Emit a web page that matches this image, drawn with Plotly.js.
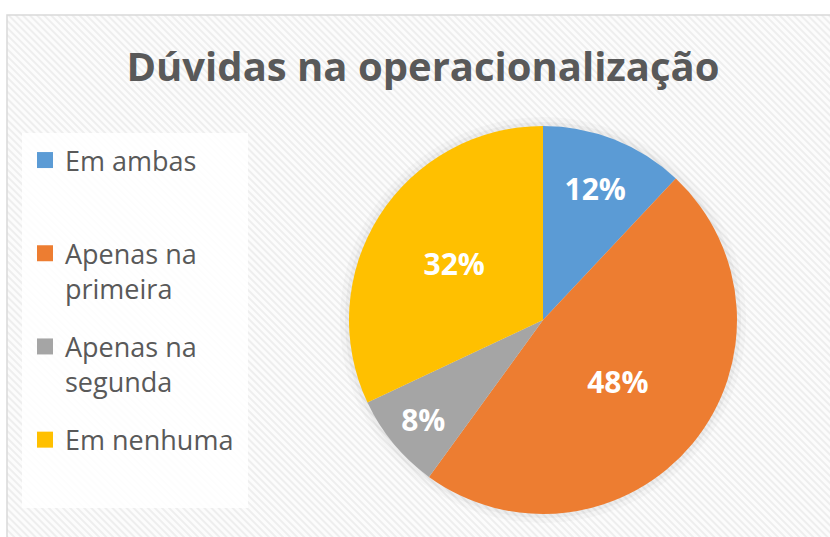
<!DOCTYPE html>
<html>
<head>
<meta charset="utf-8">
<script src="https://cdn.plot.ly/plotly-3.0.1.min.js"></script>
<style>html,body{margin:0;padding:0;background:#fff;}#chart{width:830px;height:537px;}</style>
</head>
<body>
<div id="chart"></div>
<script>
// ---- data ----
var categories = ['Em ambas', 'Apenas na primeira', 'Apenas na segunda', 'Em nenhuma'];
var percentages = [12, 48, 8, 32];
var sliceColors = ['#5B9BD5', '#ED7D31', '#A5A5A5', '#FFC000'];
var chartTitle = 'Dúvidas na operacionalização';

// legend display labels (wrapped like the original)
var wrapped = {
  'Em ambas': 'Em ambas<br>&nbsp;',
  'Apenas na primeira': 'Apenas na<br>primeira',
  'Apenas na segunda': 'Apenas na<br>segunda',
  'Em nenhuma': 'Em nenhuma'
};

var W = 830, H = 537;
function px(x) { return x / W; }
function py(y) { return 1 - y / H; }

// hatched background image
var hatchSvg = '<svg xmlns="http://www.w3.org/2000/svg" width="830" height="537">' +
  '<defs><pattern id="p" width="5" height="5" patternUnits="userSpaceOnUse" patternTransform="rotate(-45)">' +
  '<rect width="5" height="5" fill="#fcfcfc"/><rect width="2" height="5" fill="#eeeeee"/></pattern></defs>' +
  '<rect width="830" height="537" fill="url(#p)"/></svg>';
var hatchUri = 'data:image/svg+xml;utf8,' + encodeURIComponent(hatchSvg);

var cx = 543, cy = 320, r = 194;

var pieTrace = {
  type: 'pie',
  labels: categories,
  values: percentages,
  sort: false,
  direction: 'clockwise',
  rotation: 0,
  marker: { colors: sliceColors, line: { width: 0 } },
  texttemplate: '%{value}%',
  textposition: 'inside',
  insidetextorientation: 'horizontal',
  textfont: { family: 'Open Sans, sans-serif', size: 30, color: '#ffffff', weight: 'bold' },
  domain: { x: [px(cx - r), px(cx + r)], y: [py(cy + r), py(cy - r)] },
  showlegend: false,
  hoverinfo: 'label+percent'
};

// legend entries tied to the slices (same categories and colours)
var legendTraces = categories.map(function (c, i) {
  return {
    type: 'scatter', mode: 'markers',
    x: [null], y: [null],
    name: wrapped[c] || c,
    legendgroup: 'g' + i,
    marker: { symbol: 'square', size: 18, color: sliceColors[i] },
    showlegend: true, hoverinfo: 'skip'
  };
});

var layout = {
  width: W, height: H,
  margin: { l: 0, r: 0, t: 0, b: 0 },
  paper_bgcolor: '#ffffff',
  plot_bgcolor: 'rgba(0,0,0,0)',
  xaxis: { visible: false, range: [0, 1] },
  yaxis: { visible: false, range: [0, 1] },
  title: {
    text: '<b>' + chartTitle + '</b>',
    font: { family: 'Open Sans, sans-serif', size: 40, color: '#595959' },
    x: px(423), xanchor: 'center',
    y: py(67), yanchor: 'middle'
  },
  showlegend: true,
  legend: {
    x: px(25), xanchor: 'left',
    y: py(136), yanchor: 'top',
    bgcolor: 'rgba(0,0,0,0)',
    font: { family: 'Open Sans, sans-serif', size: 27, color: '#595959' },
    valign: 'top',
    traceorder: 'grouped',
    tracegroupgap: 20,
    itemsizing: 'trace'
  },
  images: [{
    source: hatchUri, xref: 'paper', yref: 'paper',
    x: px(7), y: py(15), sizex: px(830), sizey: 1,
    xanchor: 'left', yanchor: 'top', sizing: 'stretch', layer: 'below'
  }],
  shapes: [
    { type: 'rect', xref: 'paper', yref: 'paper', x0: px(7), x1: px(840), y0: py(15), y1: py(545),
      line: { color: '#d9d9d9', width: 1.5 }, fillcolor: 'rgba(0,0,0,0)', layer: 'below' },
    { type: 'rect', xref: 'paper', yref: 'paper', x0: px(22), x1: px(248), y0: py(133), y1: py(508),
      line: { width: 0 }, fillcolor: 'rgba(255,255,255,0.88)', layer: 'below' },
    { type: 'circle', xref: 'paper', yref: 'paper', x0: px(cx - r - 9), x1: px(cx + r + 9), y0: py(cy + r + 9), y1: py(cy - r - 9),
      line: { width: 0 }, fillcolor: 'rgba(0,0,0,0.025)', layer: 'below' },
    { type: 'circle', xref: 'paper', yref: 'paper', x0: px(cx - r - 4), x1: px(cx + r + 4), y0: py(cy + r + 4), y1: py(cy - r - 4),
      line: { width: 0 }, fillcolor: 'rgba(0,0,0,0.035)', layer: 'below' }
  ]
};

Plotly.newPlot('chart', [pieTrace].concat(legendTraces), layout, { displayModeBar: false, staticPlot: true });
</script>
</body>
</html>
